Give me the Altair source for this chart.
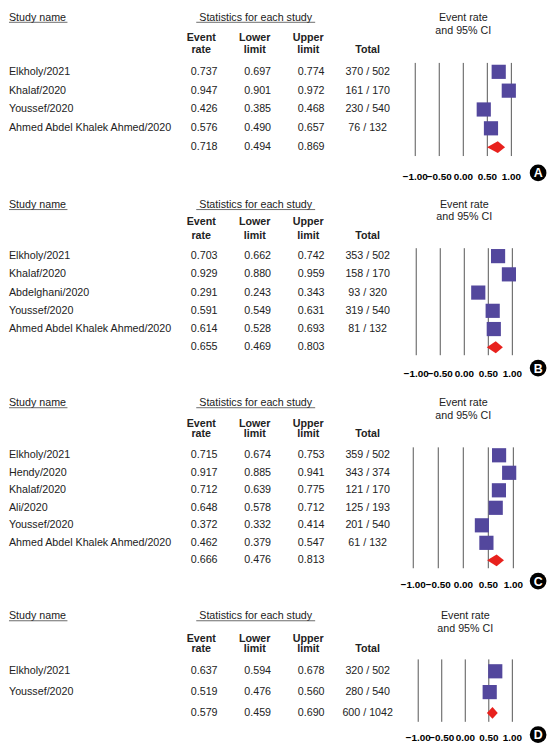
import altair as alt
import pandas as pd

FONT = "Liberation Sans"

# ---------------- data ----------------
A_names = ["Elkholy/2021", "Khalaf/2020", "Youssef/2020", "Ahmed Abdel Khalek Ahmed/2020"]
A_er = [0.737, 0.947, 0.426, 0.576]
A_ll = [0.697, 0.901, 0.385, 0.490]
A_ul = [0.774, 0.972, 0.468, 0.657]
A_tot = ["370 / 502", "161 / 170", "230 / 540", "76 / 132"]
A_sum = [0.718, 0.494, 0.869]
A_sum_tot = ""

B_names = ["Elkholy/2021", "Khalaf/2020", "Abdelghani/2020", "Youssef/2020", "Ahmed Abdel Khalek Ahmed/2020"]
B_er = [0.703, 0.929, 0.291, 0.591, 0.614]
B_ll = [0.662, 0.880, 0.243, 0.549, 0.528]
B_ul = [0.742, 0.959, 0.343, 0.631, 0.693]
B_tot = ["353 / 502", "158 / 170", "93 / 320", "319 / 540", "81 / 132"]
B_sum = [0.655, 0.469, 0.803]
B_sum_tot = ""

C_names = ["Elkholy/2021", "Hendy/2020", "Khalaf/2020", "Ali/2020", "Youssef/2020", "Ahmed Abdel Khalek Ahmed/2020"]
C_er = [0.715, 0.917, 0.712, 0.648, 0.372, 0.462]
C_ll = [0.674, 0.885, 0.639, 0.578, 0.332, 0.379]
C_ul = [0.753, 0.941, 0.775, 0.712, 0.414, 0.547]
C_tot = ["359 / 502", "343 / 374", "121 / 170", "125 / 193", "201 / 540", "61 / 132"]
C_sum = [0.666, 0.476, 0.813]
C_sum_tot = ""

D_names = ["Elkholy/2021", "Youssef/2020"]
D_er = [0.637, 0.519]
D_ll = [0.594, 0.476]
D_ul = [0.678, 0.560]
D_tot = ["320 / 502", "280 / 540"]
D_sum = [0.579, 0.459, 0.690]
D_sum_tot = "600 / 1042"

TICKS = [-1.0, -0.5, 0.0, 0.5, 1.0]
HDR_TOP = ["Event", "Lower", "Upper"]
HDR_BOT = ["rate", "limit", "limit"]

# ---------------- layout (styles / positions) ----------------
W = 545
SQ_COLOR = "#53479d"
DIA_COLOR = "#e8211d"
GRID_COLOR = "#555555"

LAYOUTS = {
    "A": dict(h=188, hdr=5.5, ul=10, ci2=19, h1=26, h2=38, row0=60, step=19, g0=51, g1=145, tick=166, circ=162, x0=410, x1=507),
    "B": dict(h=199, hdr=5.5, ul=10, ci2=18, h1=23, h2=37, row0=57, step=18.4, g0=49, g1=157, tick=176, circ=170, x0=411, x1=508),
    "C": dict(h=214, hdr=5.5, ul=10, ci2=18, h1=26, h2=37, row0=58, step=17.67, g0=50, g1=172, tick=189, circ=185, x0=408, x1=509),
    "D": dict(h=134, hdr=5.5, ul=10, ci2=18, h1=28, h2=39, row0=61, step=21, g0=49, g1=112, tick=128, circ=125, x0=413, x1=508),
}


def make_panel(letter, names, er, ll, ul, tot, s, s_tot):
    L = LAYOUTS[letter]
    n = len(names)
    yscale = alt.Scale(domain=[0, n], range=[L["row0"], L["row0"] + n * L["step"]])
    fscale = alt.Scale(domain=[-1, 1], range=[L["x0"], L["x1"]])
    cscale = alt.Scale(domain=[0, 3], range=[197, 359])

    studies = pd.DataFrame({"row": list(range(n)), "name": names, "er": er, "ll": ll, "ul": ul})
    cells = []
    for i in range(n):
        for c, v in enumerate([er[i], ll[i], ul[i]]):
            cells.append({"row": i, "col": c, "val": v})
    for c, v in enumerate(s):
        cells.append({"row": n, "col": c, "val": v})
    cells = pd.DataFrame(cells)
    totals = pd.DataFrame({"row": list(range(n + 1)), "col": [3] * (n + 1), "tot": tot + [s_tot]})

    d = 6.0 / L["step"]
    diamond = pd.DataFrame({
        "x": [s[1], s[0], s[2]],
        "y": [n, n - d, n],
        "y2": [n, n + d, n],
    })
    ticks = pd.DataFrame({"t": TICKS})
    hdr_top = pd.DataFrame({"col": [0, 1, 2], "txt": HDR_TOP})
    hdr_bot = pd.DataFrame({"col": [0, 1, 2], "txt": HDR_BOT})

    noax = dict(axis=None)

    layers = []
    # vertical grid lines
    layers.append(alt.Chart(ticks).mark_rule(color=GRID_COLOR, strokeWidth=1).encode(
        x=alt.X("t:Q", scale=fscale, **noax),
        y=alt.value(L["g0"]), y2=alt.value(L["g1"])))
    # tick labels
    layers.append(alt.Chart(ticks).mark_text(fontWeight="bold", fontSize=10, color="black", font=FONT).encode(
        x=alt.X("t:Q", scale=fscale, **noax),
        y=alt.value(L["tick"]),
        text=alt.Text("t:Q", format=".2f")))
    # CI whiskers
    layers.append(alt.Chart(studies).mark_rule(color="black", strokeWidth=1).encode(
        x=alt.X("ll:Q", scale=fscale, **noax), x2="ul:Q",
        y=alt.Y("row:Q", scale=yscale, **noax)))
    # squares
    layers.append(alt.Chart(studies).mark_square(size=205, color=SQ_COLOR, opacity=1).encode(
        x=alt.X("er:Q", scale=fscale, **noax),
        y=alt.Y("row:Q", scale=yscale, **noax)))
    # summary diamond
    layers.append(alt.Chart(diamond).mark_area(color=DIA_COLOR, opacity=1).encode(
        x=alt.X("x:Q", scale=fscale, **noax),
        y=alt.Y("y:Q", scale=yscale, **noax), y2="y2:Q"))
    # study names
    layers.append(alt.Chart(studies).mark_text(align="left", fontSize=10.8, font=FONT, color="#222").encode(
        x=alt.value(0), y=alt.Y("row:Q", scale=yscale, **noax), text="name:N"))
    # numeric cells
    layers.append(alt.Chart(cells).mark_text(align="center", fontSize=10.8, font=FONT, color="#222").encode(
        x=alt.X("col:Q", scale=cscale, **noax),
        y=alt.Y("row:Q", scale=yscale, **noax),
        text=alt.Text("val:Q", format=".3f")))
    # totals
    layers.append(alt.Chart(totals).mark_text(align="center", fontSize=10.8, font=FONT, color="#222", dx=3).encode(
        x=alt.X("col:Q", scale=cscale, **noax),
        y=alt.Y("row:Q", scale=yscale, **noax),
        text="tot:N"))
    # column headers
    layers.append(alt.Chart(hdr_top).mark_text(align="center", fontSize=10.8, fontWeight="bold", font=FONT, color="#222", dx=-3).encode(
        x=alt.X("col:Q", scale=cscale, **noax), y=alt.value(L["h1"]), text="txt:N"))
    layers.append(alt.Chart(hdr_bot).mark_text(align="center", fontSize=10.8, fontWeight="bold", font=FONT, color="#222", dx=-3).encode(
        x=alt.X("col:Q", scale=cscale, **noax), y=alt.value(L["h2"]), text="txt:N"))
    layers.append(alt.Chart(pd.DataFrame({"col": [3], "txt": ["Total"]})).mark_text(
        align="center", fontSize=10.8, fontWeight="bold", font=FONT, color="#222", dx=3).encode(
        x=alt.X("col:Q", scale=cscale, **noax), y=alt.value(L["h2"]), text="txt:N"))
    # top headers
    top = pd.DataFrame({"txt": ["Study name"]})
    layers.append(alt.Chart(top).mark_text(align="left", fontSize=10.8, font=FONT, color="#222").encode(
        x=alt.value(0), y=alt.value(L["hdr"]), text="txt:N"))
    layers.append(alt.Chart(top).mark_rule(color="#444", strokeWidth=0.8).encode(
        x=alt.value(0), x2=alt.value(59), y=alt.value(L["ul"])))
    stat = pd.DataFrame({"txt": ["Statistics for each study"]})
    layers.append(alt.Chart(stat).mark_text(align="center", fontSize=10.8, font=FONT, color="#222").encode(
        x=alt.value(249), y=alt.value(L["hdr"]), text="txt:N"))
    layers.append(alt.Chart(stat).mark_rule(color="#444", strokeWidth=0.8).encode(
        x=alt.value(189), x2=alt.value(309), y=alt.value(L["ul"])))
    xmid = (L["x0"] + L["x1"]) / 2
    layers.append(alt.Chart(pd.DataFrame({"txt": ["Event rate"]})).mark_text(
        align="center", fontSize=10.8, font=FONT, color="#222").encode(
        x=alt.value(xmid), y=alt.value(L["hdr"]), text="txt:N"))
    layers.append(alt.Chart(pd.DataFrame({"txt": ["and 95% CI"]})).mark_text(
        align="center", fontSize=10.8, font=FONT, color="#222").encode(
        x=alt.value(xmid), y=alt.value(L["ci2"]), text="txt:N"))
    # panel letter badge
    lab = pd.DataFrame({"txt": [letter]})
    layers.append(alt.Chart(lab).mark_circle(size=285, color="black", opacity=1).encode(
        x=alt.value(534), y=alt.value(L["circ"])))
    layers.append(alt.Chart(lab).mark_text(align="center", baseline="middle", fontSize=12.5, fontWeight="bold",
                                            font=FONT, color="white").encode(
        x=alt.value(534), y=alt.value(L["circ"] + 0.5), text="txt:N"))

    return alt.layer(*layers).resolve_scale(x="independent").properties(width=W, height=L["h"])


pA = make_panel("A", A_names, A_er, A_ll, A_ul, A_tot, A_sum, A_sum_tot)
pB = make_panel("B", B_names, B_er, B_ll, B_ul, B_tot, B_sum, B_sum_tot)
pC = make_panel("C", C_names, C_er, C_ll, C_ul, C_tot, C_sum, C_sum_tot)
pD = make_panel("D", D_names, D_er, D_ll, D_ul, D_tot, D_sum, D_sum_tot)

chart = alt.vconcat(pA, pB, pC, pD, spacing=0).properties(
    padding=0, background="white"
).configure_view(stroke=None).configure_text(font=FONT)

chart.save("out.html", embed_options={"renderer": "svg", "actions": False})
